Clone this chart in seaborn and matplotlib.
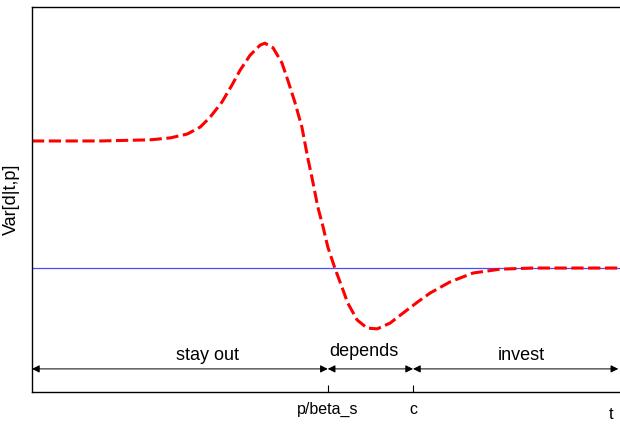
import numpy as np
import pandas as pd
import matplotlib
matplotlib.use('Agg')
import matplotlib.pyplot as plt
import seaborn as sns

# values (t and variance in arbitrary 0-100 units)
t_vals = [0, 11.6, 20.1, 23.5, 26.4, 28.6, 30.3, 32.3, 34.0, 35.4, 37.1, 38.8,
          39.6, 41.0, 42.5, 43.5, 44.7, 45.9, 46.9, 47.8, 48.6, 49.5, 50.3,
          51.5, 52.7, 53.7, 55.3, 57.0, 58.7, 60.9, 63.1, 65.6, 67.7, 71.1,
          75.0, 79.6, 85.2, 100]
var_vals = [65.2, 65.2, 65.5, 66.0, 67.0, 68.8, 71.4, 75.3, 79.7, 83.6, 87.5,
            90.1, 90.6, 89.4, 85.5, 81.0, 75.3, 68.8, 60.8, 54.3, 48.1, 42.9,
            37.7, 32.2, 27.3, 23.1, 18.7, 16.6, 16.4, 17.9, 20.5, 23.4, 25.7,
            28.6, 30.9, 31.9, 32.2, 32.2]
baseline_t = [0, 100]
baseline_var = [32.2, 32.2]

tick_pos = [50.3, 64.8]
tick_labels = ['p/beta_s', 'c']
regions = ['stay out', 'depends', 'invest']
region_edges = [0, 50.3, 64.8, 99.7]
region_label_t = [29.9, 56.5, 83.3]
region_label_y = [8.3, 9.35, 8.3]
arrow_y = 6.0

df = pd.DataFrame({'t': t_vals, 'var': var_vals})
base = pd.DataFrame({'t': baseline_t, 'var': baseline_var})

sns.set_style('white')
plt.rcParams['font.family'] = ['Liberation Sans', 'DejaVu Sans']
plt.rcParams['text.color'] = 'black'
plt.rcParams['axes.labelcolor'] = 'black'

fig = plt.figure(figsize=(6.2, 4.24), dpi=100)
ax = fig.add_axes([32 / 620, 32 / 424, 588 / 620, 385 / 424])

sns.lineplot(data=base, x='t', y='var', color='#4a4aff', lw=0.9, ax=ax)
sns.lineplot(data=df, x='t', y='var', color='red', lw=2.2, ax=ax)
ax.lines[-1].set_dashes((4, 1.5))

# region arrows and labels
for i, name in enumerate(regions):
    a, b = region_edges[i], region_edges[i + 1]
    ax.annotate('', xy=(b, arrow_y), xytext=(a, arrow_y),
                arrowprops=dict(arrowstyle='<|-|>', color='black', lw=0.7,
                                mutation_scale=11, shrinkA=0, shrinkB=0))
    ax.text(region_label_t[i], region_label_y[i], name, ha='center',
            va='baseline', fontsize=13, color='black')

ax.set_xlim(0, 100)
ax.set_ylim(0, 100)
ax.set_xticks(tick_pos)
ax.set_xticklabels(tick_labels, fontsize=11.5)
ax.set_yticks([])
ax.tick_params(axis='x', direction='in', length=5, width=0.8, pad=7,
               colors='black', bottom=True)
for s in ['left', 'bottom', 'top']:
    ax.spines[s].set_color('black')
    ax.spines[s].set_linewidth(1.0)
ax.spines['right'].set_visible(False)

ax.set_ylabel('Var[d|t,p]', fontsize=13)
ax.yaxis.set_label_coords(-0.021, 0.5)
ax.set_xlabel('t', fontsize=12)
ax.xaxis.set_label_coords(0.984, -0.04)

fig.savefig('out.png', dpi=100)
